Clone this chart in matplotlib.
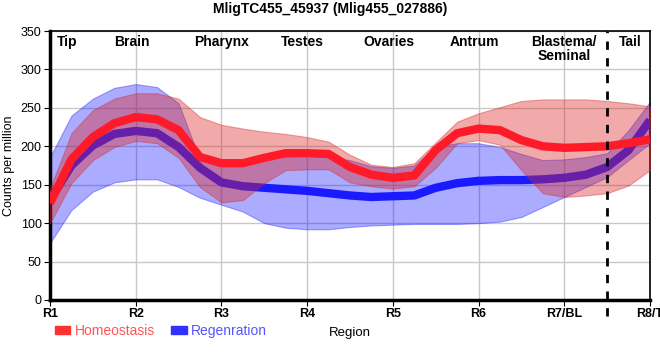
import matplotlib
matplotlib.use("Agg")
import matplotlib.pyplot as plt
from matplotlib.patches import Patch

plt.rcParams['font.family'] = ['Liberation Sans', 'DejaVu Sans']

# ---------------- DATA ---------------- #

region_ticks = ["R1", "R2", "R3", "R4", "R5", "R6", "R7/BL", "R8/T"]
tissue_labels = ["Tip", "Brain", "Pharynx", "Testes", "Ovaries", "Antrum", "Blastema/\nSeminal", "Tail"]
tissue_pos = [1.2, 1.95, 3.0, 3.95, 4.95, 5.95, 7.0, 7.77]

# sample positions along the body axis (read every quarter region)
pos = [1.0, 1.25, 1.5, 1.75, 2.0, 2.25, 2.5, 2.75, 3.0, 3.25, 3.5, 3.75, 4.0, 4.25,
       4.5, 4.75, 5.0, 5.25, 5.5, 5.75, 6.0, 6.25, 6.5, 6.75, 7.0, 7.25, 7.5, 7.75, 8.0]

hom_mean = [126, 183, 212, 230, 238, 235, 221, 186, 178, 178, 185, 191, 191, 190,
            173, 163, 159, 162, 195, 217, 223, 221, 208, 200, 198, 199, 200, 204, 209]
hom_upper = [145, 217, 247, 262, 269, 269, 262, 238, 228, 223, 219, 216, 212, 206,
             189, 176, 173, 178, 205, 232, 243, 251, 259, 261, 261, 261, 259, 256, 252]
hom_lower = [100, 152, 182, 199, 207, 204, 185, 147, 127, 130, 152, 169, 170, 170,
             153, 148, 145, 148, 172, 204, 208, 202, 169, 139, 134, 136, 139, 149, 169]

reg_mean = [130, 175, 201, 216, 220, 217, 199, 172, 153, 148, 146, 144, 142, 139,
            136, 134, 135, 136, 146, 152, 155, 156, 156, 157, 159, 163, 173, 195, 234]
reg_upper = [186, 240, 262, 276, 281, 277, 256, 182, 176, 176, 182, 187, 188, 186,
             182, 174, 172, 175, 200, 204, 204, 199, 190, 182, 183, 186, 191, 221, 258]
reg_lower = [74, 117, 141, 153, 157, 157, 147, 133, 124, 115, 100, 94, 92, 92,
             95, 97, 98, 99, 99, 99, 100, 102, 108, 121, 134, 147, 160, 182, 204]

# ---------------- PLOT ---------------- #

fig = plt.figure(figsize=(6.6, 3.6), dpi=100)
ax = fig.add_axes([50 / 660, 60 / 360, 600 / 660, 269 / 360])

ax.fill_between(pos, reg_lower, reg_upper, color="#0000ff", alpha=0.33, lw=0.8,
                edgecolor=(0, 0, 1, 0.35), zorder=2)
ax.plot(pos, reg_mean, color="#1a1aff", lw=6, solid_capstyle="butt",
        solid_joinstyle="round", zorder=3)

ax.fill_between(pos, hom_lower, hom_upper, color="#dc2828", alpha=0.4, lw=0.8,
                edgecolor=(0.86, 0.16, 0.16, 0.45), zorder=4)
ax.plot(pos, hom_mean, color="#ff1a2a", lw=6, solid_capstyle="butt",
        solid_joinstyle="round", zorder=5)

ax.axvline(7.5, color="black", lw=2, ls=(0, (3, 3)), ymin=-0.06, clip_on=False, zorder=6)

for label, xp in zip(tissue_labels, tissue_pos):
    ax.text(xp, 345, label, ha="center", va="top", fontsize=10,
            fontweight="bold", linespacing=1.0, zorder=7)

ax.set_xlim(1, 8)
ax.set_ylim(0, 350)
ax.set_xticks(range(1, 9))
ax.set_xticklabels(region_ticks, fontweight="bold", fontsize=9)
ax.set_yticks(range(0, 351, 50))
ax.tick_params(axis="y", labelsize=9, length=4, pad=2)
ax.tick_params(axis="x", length=4, pad=2)
ax.grid(True, color="#c8c8c8", lw=1)
ax.set_axisbelow(True)

for side in ["left", "bottom"]:
    ax.spines[side].set_linewidth(2.5)
for side in ["top", "right"]:
    ax.spines[side].set_linewidth(1.2)

ax.set_ylabel("Counts per million", fontsize=9, labelpad=4)
ax.set_xlabel("Region", fontsize=9.5, labelpad=2)
ax.xaxis.set_label_coords(0.5, -0.1)

fig.suptitle("MligTC455_45937 (Mlig455_027886)", fontsize=10,
             fontweight="bold", x=0.5, y=0.995)

handles = [Patch(color="#ff3030"), Patch(color="#3030ff")]
leg = fig.legend(handles, ["Homeostasis", "Regenration"], loc="center left",
                 bbox_to_anchor=(55 / 660, 29 / 360), ncol=2, frameon=False,
                 fontsize=10, handlelength=1.1, handleheight=0.55,
                 handletextpad=0.3, columnspacing=1.2, borderaxespad=0,
                 borderpad=0)
for txt, col in zip(leg.get_texts(), ["#ff5555", "#5555ff"]):
    txt.set_color(col)

fig.savefig("out.png", dpi=100)
